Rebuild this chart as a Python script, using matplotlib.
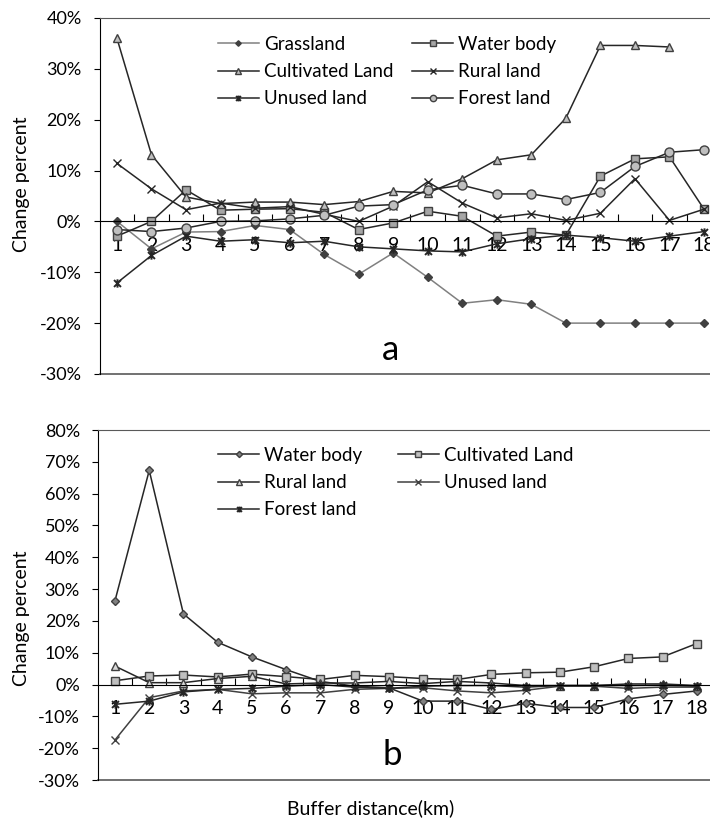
"""Land-use change percent vs. buffer distance, two stacked panels (a, b)."""

import matplotlib

matplotlib.use("Agg")
import matplotlib.pyplot as plt
from matplotlib.path import Path
from matplotlib.ticker import FixedLocator, PercentFormatter

plt.rcParams["font.family"] = ["Lato", "DejaVu Sans"]
plt.rcParams["axes.unicode_minus"] = False

W, H = 710, 821
DIST = list(range(1, 19))

# panel a values (%)
A_GRASS = [0.0, -5.4, -2.1, -2.0, -0.8, -1.6, -6.5, -10.4, -6.2, -11.0,
           -16.1, -15.4, -16.3, -20.0, -20.0, -20.0, -20.0, -20.0]
A_WATER = [-2.9, 0.0, 6.2, 2.2, 2.4, 2.5, 1.8, -1.6, -0.3, 2.0,
           1.0, -2.9, -2.1, -2.7, 8.9, 12.3, 12.7, 2.4]
A_CULT = [36.0, 13.1, 4.8, 3.5, 3.8, 3.8, 3.3, 3.9, 5.9, 5.6,
          8.4, 12.1, 13.1, 20.3, 34.6, 34.6, 34.3, None]
A_RURAL = [11.4, 6.4, 2.3, 3.6, 2.6, 2.9, 1.4, 0.0, 3.0, 7.8,
           3.6, 0.7, 1.5, 0.2, 1.6, 8.4, 0.2, 2.4]
A_UNUSED = [-12.1, -6.7, -2.9, -3.9, -3.6, -4.2, -3.9, -5.0, -5.4, -5.8,
            -6.0, -4.4, -3.4, -2.7, -3.2, -3.9, -2.9, -2.0]
A_FOREST = [-1.6, -2.0, -1.3, 0.0, 0.1, 0.5, 1.2, 3.0, 3.3, 6.2,
            7.1, 5.4, 5.4, 4.3, 5.7, 10.8, 13.6, 14.1]

# panel b values (%)
B_WATER = [26.4, 67.3, 22.2, 13.3, 8.7, 4.7, 1.0, -0.5, -1.0, -5.2,
           -5.2, -7.8, -5.9, -7.2, -7.2, -4.5, -3.1, -2.0]
B_CULT = [1.2, 2.7, 3.0, 2.4, 3.3, 2.5, 1.6, 2.9, 2.5, 1.9,
          1.6, 3.2, 3.7, 3.9, 5.6, 8.2, 8.7, 12.9]
B_RURAL = [5.8, 0.6, 0.6, 1.9, 2.6, 0.2, 0.5, 0.5, 1.0, 0.3,
           1.0, 0.5, -0.3, -0.3, -0.3, 0.2, 0.2, -0.3]
B_UNUSED = [-17.4, -4.1, -2.0, -1.5, -2.9, -2.6, -2.6, -1.5, -1.2, -1.0,
            -2.0, -2.6, -1.8, -0.5, -0.5, -1.2, -0.8, -0.8]
B_FOREST = [-6.2, -5.2, -2.3, -1.5, -1.2, -0.5, 0.0, -0.8, -1.2, -0.5,
            -0.3, -0.3, -0.8, -0.3, -0.3, -0.3, -0.2, -0.5]

# Excel-style "star": an x with a vertical bar through it
STAR = Path(
    [(-1, -1), (1, 1), (-1, 1), (1, -1), (0, -1.2), (0, 1.2)],
    [Path.MOVETO, Path.LINETO, Path.MOVETO, Path.LINETO, Path.MOVETO, Path.LINETO],
)

STYLE = {
    "grass": dict(color="#808080", marker="D", ms=4, mfc="#404040", mec="#404040"),
    "water_a": dict(color="#262626", marker="s", ms=6, mfc="#a6a6a6", mec="#404040"),
    "cult_a": dict(color="#262626", marker="^", ms=6, mfc="#bfbfbf", mec="#404040"),
    "rural_a": dict(color="#262626", marker="x", ms=6, mec="#262626", mew=1),
    "unused_a": dict(color="#262626", marker=STAR, ms=6, mec="#262626", mew=1.4),
    "forest_a": dict(color="#262626", marker="o", ms=6.5, mfc="#bfbfbf", mec="#404040"),
    "water_b": dict(color="#262626", marker="D", ms=4.5, mfc="#808080", mec="#404040"),
    "cult_b": dict(color="#262626", marker="s", ms=6, mfc="#bfbfbf", mec="#404040"),
    "rural_b": dict(color="#262626", marker="^", ms=6, mfc="#d9d9d9", mec="#404040"),
    "unused_b": dict(color="#404040", marker="x", ms=6, mec="#404040", mew=1),
    "forest_b": dict(color="#262626", marker=STAR, ms=6, mec="#262626", mew=1.4),
}


def px(x, y):
    return x / W, 1 - y / H


def style_axes(ax, ylim, ystep, xfs):
    ax.set_xlim(0.5, 18.5)
    ax.set_ylim(*ylim)
    ax.yaxis.set_major_locator(FixedLocator(range(ylim[0], ylim[1] + 1, ystep)))
    ax.yaxis.set_major_formatter(PercentFormatter(decimals=0))
    ax.spines["bottom"].set_position(("data", 0))
    ax.spines["bottom"].set_color("black")
    ax.spines["right"].set_visible(False)
    ax.spines["top"].set_color("#595959")
    ax.axhline(ylim[0], color="#595959", lw=1.2, clip_on=False)
    ax.set_xticks(DIST)
    ax.set_xticks([d + 0.5 for d in DIST], minor=True)
    ax.tick_params(axis="x", which="major", length=0, pad=11, labelsize=xfs)
    ax.tick_params(axis="x", which="minor", direction="in", length=5, width=0.8)
    ax.tick_params(axis="y", direction="out", length=4, pad=9, labelsize=13)


def main() -> None:
    fig = plt.figure(figsize=(W / 100, H / 100), dpi=100)

    # panel a
    ax = fig.add_axes((0.1404, 0.5445, 0.8755, 0.4336))
    la = {}
    la["Grassland"], = ax.plot(DIST, A_GRASS, lw=1.1, **STYLE["grass"])
    la["Water body"], = ax.plot(DIST, A_WATER, lw=1.1, **STYLE["water_a"])
    la["Cultivated Land"], = ax.plot(DIST, [v if v is not None else float("nan") for v in A_CULT],
                                     lw=1.1, **STYLE["cult_a"])
    la["Rural land"], = ax.plot(DIST, A_RURAL, lw=1.1, **STYLE["rural_a"])
    la["Unused land"], = ax.plot(DIST, A_UNUSED, lw=1.1, **STYLE["unused_a"])
    la["Forest land"], = ax.plot(DIST, A_FOREST, lw=1.1, **STYLE["forest_a"])
    style_axes(ax, (-30, 40), 10, 14)
    order = ["Grassland", "Cultivated Land", "Unused land",
             "Water body", "Rural land", "Forest land"]
    ax.legend([la[k] for k in order], order, ncol=2, loc="upper left",
              bbox_to_anchor=(0.19, 0.95), frameon=False, fontsize=13.5,
              handlelength=2.2, handletextpad=0.25, columnspacing=1.0,
              labelspacing=0.55, markerscale=0.7, borderpad=0, borderaxespad=0)

    # panel b
    bx = fig.add_axes((0.1379, 0.0499, 0.8675, 0.4263))
    lb = {}
    lb["Water body"], = bx.plot(DIST, B_WATER, lw=1.1, **STYLE["water_b"])
    lb["Cultivated Land"], = bx.plot(DIST, B_CULT, lw=1.1, **STYLE["cult_b"])
    lb["Rural land"], = bx.plot(DIST, B_RURAL, lw=1.1, **STYLE["rural_b"])
    lb["Unused land"], = bx.plot(DIST, B_UNUSED, lw=1.1, **STYLE["unused_b"])
    lb["Forest land"], = bx.plot(DIST, B_FOREST, lw=1.1, **STYLE["forest_b"])
    style_axes(bx, (-30, 80), 10, 14)
    order = ["Water body", "Rural land", "Forest land",
             "Cultivated Land", "Unused land"]
    bx.legend([lb[k] for k in order], order, ncol=2, loc="upper left",
              bbox_to_anchor=(0.195, 0.952), frameon=False, fontsize=13.5,
              handlelength=2.2, handletextpad=0.25, columnspacing=1.9,
              labelspacing=0.55, markerscale=0.7, borderpad=0, borderaxespad=0)

    fig.text(*px(390, 350), "a", fontsize=25, ha="center", va="center")
    fig.text(*px(392, 755), "b", fontsize=25, ha="center", va="center")
    fig.text(*px(22, 184), "Change percent", fontsize=14, rotation=90,
             ha="center", va="center")
    fig.text(*px(22, 618), "Change percent", fontsize=14, rotation=90,
             ha="center", va="center")
    fig.text(*px(371, 808), "Buffer distance(km)", fontsize=14,
             ha="center", va="center")

    fig.savefig("out.png", dpi=100)
    plt.close(fig)


if __name__ == "__main__":
    main()
